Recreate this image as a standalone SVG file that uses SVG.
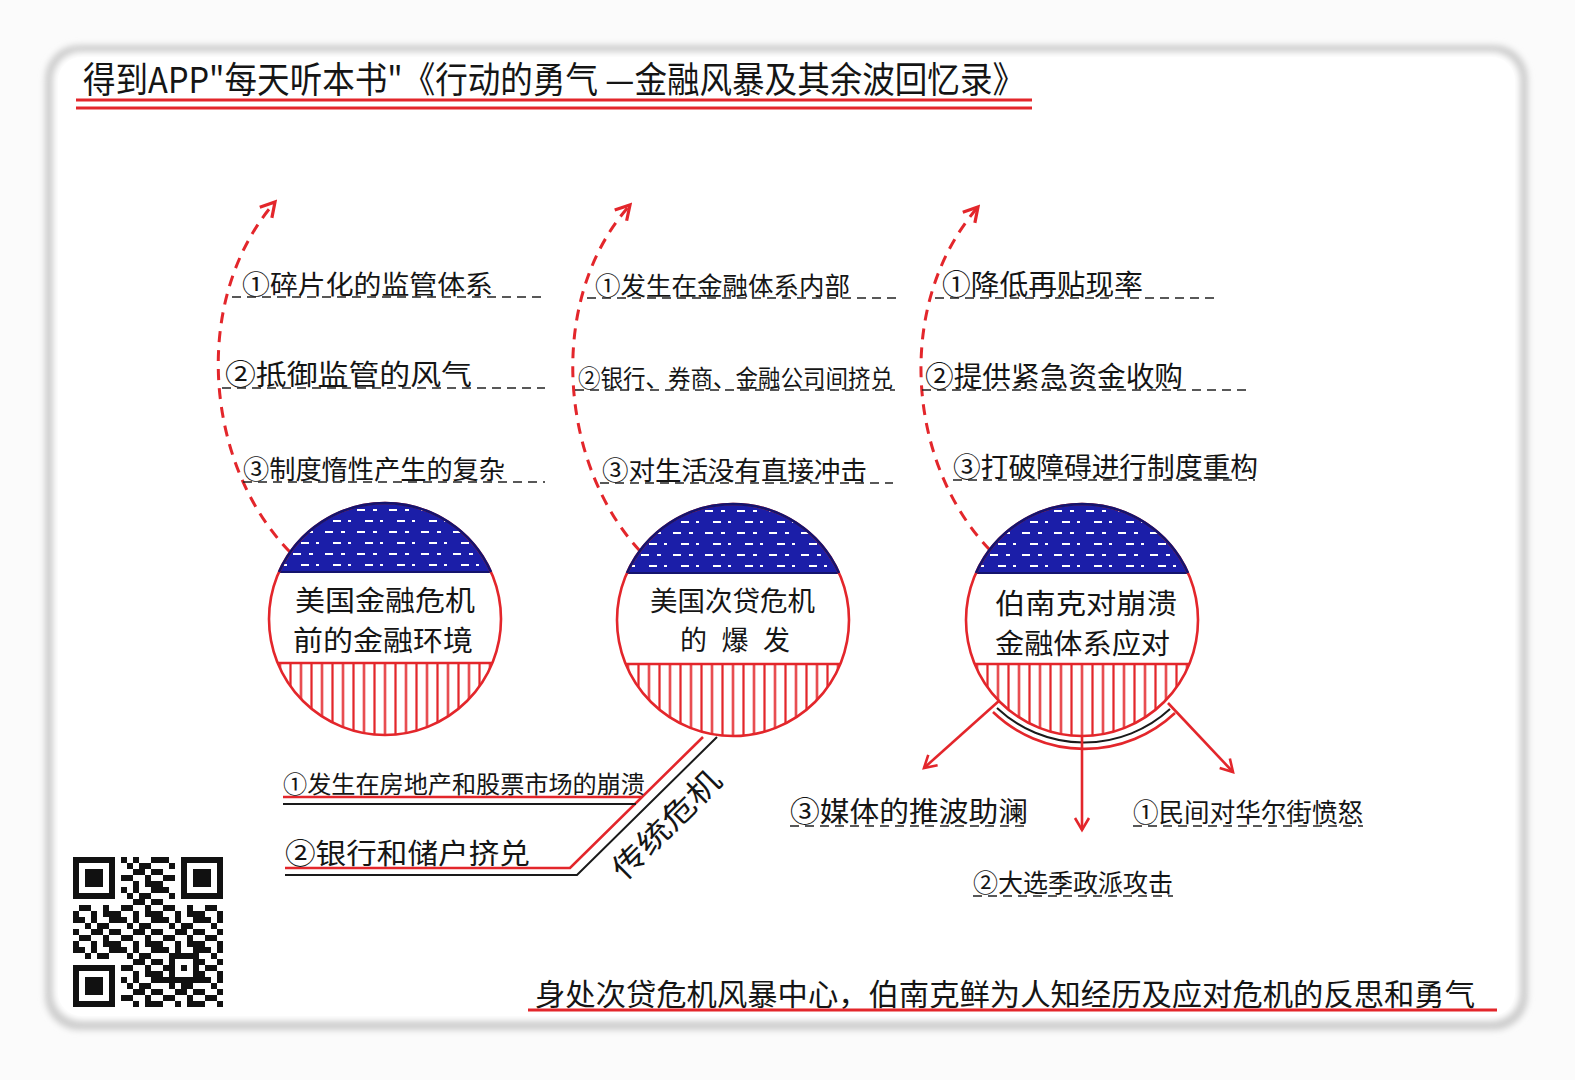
<svg xmlns="http://www.w3.org/2000/svg" width="1575" height="1080" viewBox="0 0 1575 1080">
<style>
.t{font-family:"Noto Sans CJK SC","Noto Sans",sans-serif;fill:#151515;}
.ul{stroke:#222;stroke-width:1.6;stroke-dasharray:9 6;fill:none;}
.dash{stroke:#e3262b;stroke-width:3;stroke-dasharray:11 8;fill:none;}
.rl{stroke:#e3262b;stroke-width:2.6;fill:none;}
.bl{stroke:#1a1a1a;stroke-width:2;fill:none;}
.arr{stroke:#e3262b;stroke-width:2.6;fill:none;}
</style>
<defs>
<filter id="soft" x="-5%" y="-5%" width="110%" height="110%"><feGaussianBlur stdDeviation="3"/></filter>
<pattern id="dots" patternUnits="userSpaceOnUse" x="0" y="-4" width="32" height="22">
<rect width="32" height="22" fill="#1b1ea8"/>
<rect x="4" y="4" width="8" height="2" fill="#fff"/>
<rect x="20" y="4" width="4" height="2" fill="#fff"/>
<rect x="12" y="15" width="8" height="2" fill="#fff"/>
<rect x="27" y="15" width="3" height="2" fill="#fff"/>
</pattern>
<pattern id="stripes" patternUnits="userSpaceOnUse" x="-5.25" y="0" width="10.5" height="10">
<rect width="10.5" height="10" fill="#fff"/>
<line x1="5.25" y1="0" x2="5.25" y2="10" stroke="#e3262b" stroke-width="2.2"/>
</pattern>
<pattern id="qrp" patternUnits="userSpaceOnUse" width="42" height="30">
<rect width="42" height="30" fill="#fff"/>
<g fill="#111">
<rect x="0" y="0" width="12" height="6"/><rect x="18" y="0" width="6" height="6"/><rect x="36" y="0" width="6" height="6"/>
<rect x="12" y="6" width="6" height="6"/><rect x="24" y="6" width="12" height="6"/>
<rect x="0" y="12" width="6" height="6"/><rect x="18" y="12" width="12" height="6"/><rect x="36" y="12" width="6" height="6"/>
<rect x="6" y="18" width="12" height="6"/><rect x="30" y="18" width="6" height="6"/>
<rect x="0" y="24" width="6" height="6"/><rect x="18" y="24" width="6" height="6"/><rect x="30" y="24" width="12" height="6"/>
</g>
</pattern>
<clipPath id="cc"><circle r="116"/></clipPath>
<marker id="ah" markerUnits="userSpaceOnUse" markerWidth="22" markerHeight="22" viewBox="0 0 22 22" refX="19" refY="11" orient="auto">
<path d="M5,3 L19,11 L5,19" fill="none" stroke="#e3262b" stroke-width="3.2"/>
</marker>
<marker id="ah2" markerUnits="userSpaceOnUse" markerWidth="20" markerHeight="20" viewBox="0 0 20 20" refX="17" refY="10" orient="auto">
<path d="M5,3 L17,10 L5,17" fill="none" stroke="#e3262b" stroke-width="2.6"/>
</marker>
</defs>

<rect width="1575" height="1080" fill="#fbfbfb"/>
<g id="frame">
<rect x="45" y="45" width="1483" height="985" rx="34" fill="#cdcdcd" filter="url(#soft)"/>
<rect x="53" y="52" width="1467" height="969" rx="28" fill="#fff" filter="url(#soft)"/>
<rect x="58" y="57" width="1457" height="959" rx="24" fill="#fff"/>
</g>

<g id="title">
<text class="t" x="83" y="93" font-size="36" textLength="942" lengthAdjust="spacingAndGlyphs">得到APP"每天听本书"《行动的勇气 —金融风暴及其余波回忆录》</text>
<line x1="76" y1="100" x2="1032" y2="100" stroke="#e3262b" stroke-width="3"/>
<line x1="76" y1="108" x2="1032" y2="108" stroke="#e3262b" stroke-width="3"/>
</g>

<g id="connectors">
<path class="dash" d="M290 552 C205 465 190 300 275 202" marker-end="url(#ah)"/>
<path class="dash" d="M640 551 C560 465 545 300 630 205" marker-end="url(#ah)"/>
<path class="dash" d="M990 550 C908 465 893 305 978 207" marker-end="url(#ah)"/>
<path class="rl" d="M703 737 L570 868 L285 868"/>
<path class="bl" d="M717 737 L577 875 L285 875"/>
<path class="rl" d="M283 797 L642 797"/>
<path class="bl" d="M283 804 L636 804"/>
<path class="rl" d="M993 712 A132 132 0 0 0 1175 713"/>
<path class="bl" d="M997 708 A127 127 0 0 0 1170 709" stroke-width="1.6"/>
<line class="arr" x1="1000" y1="700" x2="924" y2="768" marker-end="url(#ah2)"/>
<line class="arr" x1="1082" y1="736" x2="1082" y2="830" marker-end="url(#ah2)"/>
<line class="arr" x1="1168" y1="703" x2="1233" y2="772" marker-end="url(#ah2)"/>
</g>

<g id="col1-r1"><text class="t" x="242" y="294" font-size="26" textLength="251" lengthAdjust="spacingAndGlyphs">①碎片化的监管体系</text><line class="ul" x1="232" y1="297" x2="545" y2="297"/></g>
<g id="col1-r2"><text class="t" x="225" y="385" font-size="28" textLength="247" lengthAdjust="spacingAndGlyphs">②抵御监管的风气</text><line class="ul" x1="222" y1="388" x2="545" y2="388"/></g>
<g id="col1-r3"><text class="t" x="243" y="479" font-size="26" textLength="262" lengthAdjust="spacingAndGlyphs">③制度惰性产生的复杂</text><line class="ul" x1="243" y1="482" x2="545" y2="482"/></g>

<g id="col2-r1"><text class="t" x="595" y="295" font-size="25" textLength="255" lengthAdjust="spacingAndGlyphs">①发生在金融体系内部</text><line class="ul" x1="587" y1="298" x2="900" y2="298"/></g>
<g id="col2-r2"><text class="t" x="578" y="387" font-size="24" textLength="315" lengthAdjust="spacingAndGlyphs">②银行、券商、金融公司间挤兑</text><line class="ul" x1="575" y1="390" x2="895" y2="390"/></g>
<g id="col2-r3"><text class="t" x="602" y="480" font-size="26" textLength="265" lengthAdjust="spacingAndGlyphs">③对生活没有直接冲击</text><line class="ul" x1="600" y1="483" x2="893" y2="483"/></g>

<g id="col3-r1"><text class="t" x="942" y="295" font-size="28" textLength="201" lengthAdjust="spacingAndGlyphs">①降低再贴现率</text><line class="ul" x1="935" y1="298" x2="1217" y2="298"/></g>
<g id="col3-r2"><text class="t" x="925" y="387" font-size="28" textLength="258" lengthAdjust="spacingAndGlyphs">②提供紧急资金收购</text><line class="ul" x1="922" y1="390" x2="1248" y2="390"/></g>
<g id="col3-r3"><text class="t" x="953" y="477" font-size="27" textLength="305" lengthAdjust="spacingAndGlyphs">③打破障碍进行制度重构</text><line class="ul" x1="953" y1="480" x2="1255" y2="480"/></g>

<g id="node-c1" transform="translate(385,619)">
<circle r="116" fill="#fff"/>
<g clip-path="url(#cc)">
<rect x="-120" y="-120" width="240" height="73" fill="url(#dots)"/>
<rect x="-120" y="44" width="240" height="80" fill="url(#stripes)"/>
</g>
<line x1="-107" y1="44" x2="107" y2="44" stroke="#e3262b" stroke-width="2.5"/>
<line x1="-106" y1="-47" x2="106" y2="-47" stroke="#14146e" stroke-width="2"/>
<circle r="116" fill="none" stroke="#e3262b" stroke-width="2.6"/>
<path d="M-106 -47 A116 116 0 0 1 106 -47" fill="none" stroke="#14146e" stroke-width="2.6"/>
<text class="t" x="-90" y="-8" font-size="28" textLength="180" lengthAdjust="spacingAndGlyphs">美国金融危机</text>
<text class="t" x="-92" y="32" font-size="28" textLength="180" lengthAdjust="spacingAndGlyphs">前的金融环境</text>
</g>

<g id="node-c2" transform="translate(733,620)">
<circle r="116" fill="#fff"/>
<g clip-path="url(#cc)">
<rect x="-120" y="-120" width="240" height="73" fill="url(#dots)"/>
<rect x="-120" y="44" width="240" height="80" fill="url(#stripes)"/>
</g>
<line x1="-107" y1="44" x2="107" y2="44" stroke="#e3262b" stroke-width="2.5"/>
<line x1="-106" y1="-47" x2="106" y2="-47" stroke="#14146e" stroke-width="2"/>
<circle r="116" fill="none" stroke="#e3262b" stroke-width="2.6"/>
<path d="M-106 -47 A116 116 0 0 1 106 -47" fill="none" stroke="#14146e" stroke-width="2.6"/>
<text class="t" x="-83" y="-9" font-size="27" textLength="165" lengthAdjust="spacingAndGlyphs">美国次贷危机</text>
<text class="t" x="-53" y="30" font-size="27" textLength="110" lengthAdjust="spacing">的爆发</text>
</g>

<g id="node-c3" transform="translate(1082,620)">
<circle r="116" fill="#fff"/>
<g clip-path="url(#cc)">
<rect x="-120" y="-120" width="240" height="73" fill="url(#dots)"/>
<rect x="-120" y="44" width="240" height="80" fill="url(#stripes)"/>
</g>
<line x1="-107" y1="44" x2="107" y2="44" stroke="#e3262b" stroke-width="2.5"/>
<line x1="-106" y1="-47" x2="106" y2="-47" stroke="#14146e" stroke-width="2"/>
<circle r="116" fill="none" stroke="#e3262b" stroke-width="2.6"/>
<path d="M-106 -47 A116 116 0 0 1 106 -47" fill="none" stroke="#14146e" stroke-width="2.6"/>
<text class="t" x="-87" y="-6" font-size="28" textLength="182" lengthAdjust="spacingAndGlyphs">伯南克对崩溃</text>
<text class="t" x="-87" y="34" font-size="28" textLength="175" lengthAdjust="spacingAndGlyphs">金融体系应对</text>
</g>

<g id="bl-r1"><text class="t" x="283" y="793" font-size="24" textLength="362" lengthAdjust="spacingAndGlyphs">①发生在房地产和股票市场的崩溃</text></g>
<g id="bl-r2"><text class="t" x="285" y="864" font-size="28" textLength="245" lengthAdjust="spacingAndGlyphs">②银行和储户挤兑</text></g>
<g id="bl-label" transform="translate(667,825) rotate(-45)"><text class="t" x="0" y="10" font-size="30" text-anchor="middle" textLength="140" lengthAdjust="spacingAndGlyphs">传统危机</text></g>

<g id="br-media"><text class="t" x="790" y="822" font-size="28" textLength="238" lengthAdjust="spacingAndGlyphs">③媒体的推波助澜</text><line class="ul" x1="790" y1="826" x2="1028" y2="826"/></g>
<g id="br-public"><text class="t" x="1133" y="822" font-size="26" textLength="230" lengthAdjust="spacingAndGlyphs">①民间对华尔街愤怒</text><line class="ul" x1="1133" y1="826" x2="1363" y2="826"/></g>
<g id="br-election"><text class="t" x="973" y="892" font-size="25" textLength="200" lengthAdjust="spacingAndGlyphs">②大选季政派攻击</text><line class="ul" x1="973" y1="896" x2="1173" y2="896"/></g>

<g id="summary">
<text class="t" x="535" y="1005" font-size="30" textLength="940" lengthAdjust="spacingAndGlyphs">身处次贷危机风暴中心，伯南克鲜为人知经历及应对危机的反思和勇气</text>
<line x1="528" y1="1010" x2="1497" y2="1010" stroke="#e3262b" stroke-width="3"/>
</g>

<g id="qr" transform="translate(73,857)">
<rect width="150" height="150" fill="url(#qrp)"/>
<rect x="0" y="0" width="48" height="48" fill="#fff"/><rect x="0" y="0" width="42" height="42" fill="#111"/><rect x="6" y="6" width="30" height="30" fill="#fff"/><rect x="12" y="12" width="18" height="18" fill="#111"/>
<rect x="102" y="0" width="48" height="48" fill="#fff"/><rect x="108" y="0" width="42" height="42" fill="#111"/><rect x="114" y="6" width="30" height="30" fill="#fff"/><rect x="120" y="12" width="18" height="18" fill="#111"/>
<rect x="0" y="102" width="48" height="48" fill="#fff"/><rect x="0" y="108" width="42" height="42" fill="#111"/><rect x="6" y="114" width="30" height="30" fill="#fff"/><rect x="12" y="120" width="18" height="18" fill="#111"/>
<rect x="96" y="96" width="30" height="30" fill="#111"/><rect x="102" y="102" width="18" height="18" fill="#fff"/><rect x="108" y="108" width="6" height="6" fill="#111"/>
</g>
</svg>
